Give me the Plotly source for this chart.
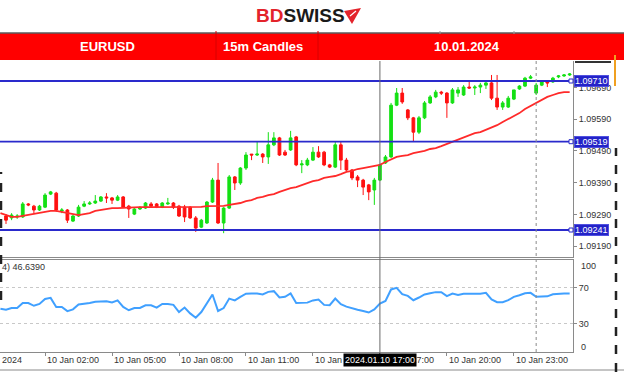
import plotly.graph_objects as go
import pandas as pd

# ---------------- data ----------------
opens = [
    1.09285, 1.09279, 1.09282, 1.09282, 1.09323, 1.09316, 1.09304, 1.09313, 1.09354, 1.09357,
    1.09301, 1.09304, 1.09269, 1.09285, 1.09316, 1.09323, 1.09326, 1.09332, 1.09345, 1.09342,
    1.09335, 1.09345, 1.09316, 1.09291, 1.09307, 1.09310, 1.09323, 1.09323, 1.09313, 1.09323,
    1.09326, 1.09316, 1.09313, 1.09313, 1.09279, 1.09250, 1.09263, 1.09329, 1.09398, 1.09263,
    1.09310, 1.09408, 1.09389, 1.09436, 1.09480, 1.09477, 1.09480, 1.09471, 1.09509, 1.09531,
    1.09486, 1.09493, 1.09534, 1.09446, 1.09446, 1.09461, 1.09486, 1.09486, 1.09446, 1.09439,
    1.09509, 1.09461, 1.09430, 1.09408, 1.09398, 1.09383, 1.09367, 1.09398, 1.09452, 1.09471,
    1.09634, 1.09672, 1.09619, 1.09594, 1.09549, 1.09594, 1.09641, 1.09660, 1.09675, 1.09672,
    1.09641, 1.09672, 1.09666, 1.09691, 1.09688, 1.09691, 1.09697, 1.09704, 1.09656, 1.09628,
    1.09628, 1.09653, 1.09685, 1.09694, 1.09719, 1.09672, 1.09697, 1.09707, 1.09707, 1.09723,
    1.09726, 1.09729]
highs = [
    1.09291, 1.09294, 1.09291, 1.09329, 1.09326, 1.09320, 1.09320, 1.09357, 1.09364, 1.09361,
    1.09310, 1.09307, 1.09288, 1.09320, 1.09332, 1.09332, 1.09351, 1.09348, 1.09357, 1.09345,
    1.09351, 1.09348, 1.09320, 1.09310, 1.09316, 1.09329, 1.09329, 1.09326, 1.09329, 1.09342,
    1.09329, 1.09320, 1.09320, 1.09316, 1.09285, 1.09276, 1.09332, 1.09405, 1.09452, 1.09313,
    1.09414, 1.09411, 1.09439, 1.09486, 1.09480, 1.09518, 1.09483, 1.09549, 1.09549, 1.09534,
    1.09493, 1.09553, 1.09537, 1.09461, 1.09468, 1.09502, 1.09505, 1.09490, 1.09449, 1.09518,
    1.09518, 1.09468, 1.09433, 1.09414, 1.09402, 1.09386, 1.09405, 1.09449, 1.09477, 1.09641,
    1.09688, 1.09688, 1.09622, 1.09597, 1.09600, 1.09647, 1.09666, 1.09682, 1.09679, 1.09675,
    1.09688, 1.09691, 1.09697, 1.09707, 1.09697, 1.09704, 1.09710, 1.09729, 1.09729, 1.09647,
    1.09663, 1.09682, 1.09697, 1.09723, 1.09729, 1.09704, 1.09713, 1.09710, 1.09723, 1.09729,
    1.09732, 1.09735]
lows = [
    1.09260, 1.09272, 1.09276, 1.09279, 1.09316, 1.09294, 1.09301, 1.09310, 1.09351, 1.09298,
    1.09294, 1.09263, 1.09266, 1.09282, 1.09313, 1.09320, 1.09323, 1.09329, 1.09326, 1.09323,
    1.09332, 1.09310, 1.09279, 1.09288, 1.09304, 1.09307, 1.09313, 1.09310, 1.09310, 1.09320,
    1.09307, 1.09282, 1.09266, 1.09276, 1.09235, 1.09247, 1.09260, 1.09326, 1.09260, 1.09231,
    1.09307, 1.09367, 1.09383, 1.09430, 1.09461, 1.09474, 1.09452, 1.09449, 1.09505, 1.09474,
    1.09474, 1.09490, 1.09442, 1.09420, 1.09442, 1.09458, 1.09468, 1.09442, 1.09436, 1.09436,
    1.09430, 1.09427, 1.09398, 1.09376, 1.09351, 1.09335, 1.09320, 1.09395, 1.09449, 1.09468,
    1.09631, 1.09638, 1.09587, 1.09518, 1.09543, 1.09590, 1.09638, 1.09656, 1.09666, 1.09594,
    1.09638, 1.09660, 1.09663, 1.09685, 1.09666, 1.09672, 1.09685, 1.09650, 1.09619, 1.09619,
    1.09625, 1.09650, 1.09682, 1.09691, 1.09716, 1.09666, 1.09694, 1.09691, 1.09704, 1.09719,
    1.09723, 1.09726]
closes = [
    1.09272, 1.09288, 1.09285, 1.09323, 1.09320, 1.09304, 1.09316, 1.09351, 1.09361, 1.09304,
    1.09304, 1.09272, 1.09285, 1.09313, 1.09323, 1.09326, 1.09332, 1.09345, 1.09342, 1.09335,
    1.09345, 1.09313, 1.09307, 1.09307, 1.09310, 1.09326, 1.09316, 1.09313, 1.09326, 1.09326,
    1.09313, 1.09285, 1.09282, 1.09279, 1.09247, 1.09272, 1.09329, 1.09398, 1.09263, 1.09310,
    1.09408, 1.09389, 1.09436, 1.09477, 1.09477, 1.09480, 1.09471, 1.09509, 1.09531, 1.09477,
    1.09477, 1.09531, 1.09446, 1.09449, 1.09461, 1.09486, 1.09471, 1.09446, 1.09439, 1.09509,
    1.09461, 1.09430, 1.09405, 1.09398, 1.09376, 1.09361, 1.09398, 1.09446, 1.09471, 1.09634,
    1.09672, 1.09644, 1.09594, 1.09549, 1.09594, 1.09641, 1.09660, 1.09675, 1.09672, 1.09641,
    1.09682, 1.09682, 1.09691, 1.09688, 1.09691, 1.09697, 1.09704, 1.09656, 1.09628, 1.09641,
    1.09656, 1.09682, 1.09694, 1.09719, 1.09723, 1.09697, 1.09707, 1.09704, 1.09719, 1.09726,
    1.09729, 1.09732]

# moving average (red line) and RSI, starting one bar before the first candle
ma_values = [
    1.09294,
    1.09288, 1.09282, 1.09282, 1.09285, 1.09288, 1.09291, 1.09294, 1.09298, 1.09301, 1.09301,
    1.09298, 1.09294, 1.09291, 1.09288, 1.09291, 1.09294, 1.09301, 1.09304, 1.09307, 1.09310,
    1.09310, 1.09311, 1.09313, 1.09313, 1.09313, 1.09313, 1.09313, 1.09313, 1.09313, 1.09313,
    1.09313, 1.09313, 1.09313, 1.09313, 1.09313, 1.09314, 1.09316, 1.09316, 1.09316, 1.09317,
    1.09320, 1.09323, 1.09326, 1.09332, 1.09335, 1.09342, 1.09345, 1.09351, 1.09354, 1.09361,
    1.09367, 1.09373, 1.09376, 1.09383, 1.09389, 1.09395, 1.09398, 1.09405, 1.09408, 1.09411,
    1.09417, 1.09424, 1.09427, 1.09433, 1.09436, 1.09439, 1.09442, 1.09446, 1.09455, 1.09464,
    1.09471, 1.09474, 1.09477, 1.09483, 1.09486, 1.09490, 1.09496, 1.09499, 1.09505, 1.09512,
    1.09518, 1.09527, 1.09534, 1.09540, 1.09546, 1.09549, 1.09556, 1.09562, 1.09571, 1.09581,
    1.09590, 1.09600, 1.09609, 1.09622, 1.09631, 1.09641, 1.09650, 1.09660, 1.09666, 1.09672,
    1.09675, 1.09675]
rsi_values = [
    46.8,
    45.7, 47.5, 47.5, 53.0, 53.0, 50.0, 52.0, 57.5, 58.8, 48.7,
    48.7, 44.0, 46.0, 51.5, 52.0, 53.0, 54.5, 55.0, 55.0, 53.6,
    56.0, 48.7, 45.0, 47.5, 47.5, 50.5, 50.5, 48.0, 52.0, 52.0,
    51.0, 43.0, 48.0, 41.5, 36.7, 43.0, 53.0, 62.6, 44.2, 47.5,
    58.0, 56.0, 60.0, 63.5, 63.7, 63.7, 62.6, 65.5, 66.3, 59.2,
    60.0, 63.7, 53.1, 53.1, 53.5, 56.0, 57.0, 51.0, 50.6, 58.0,
    51.7, 49.0, 47.0, 45.5, 44.2, 42.5, 46.0, 52.5, 55.4, 68.2,
    70.0, 63.0, 61.0, 56.2, 59.2, 62.6, 64.0, 65.2, 65.2, 60.7,
    63.7, 62.1, 63.3, 63.3, 63.3, 63.5, 64.4, 57.0, 54.0, 54.0,
    56.2, 60.0, 61.8, 64.0, 64.4, 60.0, 60.3, 60.5, 62.9, 63.5,
    63.7, 63.7]

levels = [1.09710, 1.09519, 1.09241]
price_ticks = [1.09190, 1.09290, 1.09390, 1.09490, 1.09590, 1.09690]
rsi_ticks = [70, 30]
time_ticks = ["2024-01-10 02:00", "2024-01-10 05:00", "2024-01-10 08:00", "2024-01-10 11:00",
              "2024-01-10 14:00", "2024-01-10 17:00", "2024-01-10 20:00", "2024-01-10 23:00"]
time_tick_labels = ["10 Jan 02:00", "10 Jan 05:00", "10 Jan 08:00", "10 Jan 11:00",
                    "10 Jan 14:00", "10 Jan 17:00", "10 Jan 20:00", "10 Jan 23:00"]
crosshair_time = "2024-01-10 17:00"
crosshair_label = "2024.01.10 17:00"
separator_time = "2024-01-11 00:00"
header_cells = ["EURUSD", "15m Candles", "10.01.2024"]
rsi_caption = "4) 46.6390"

candle_times = pd.date_range("2024-01-10 00:15", periods=len(opens), freq="15min")
line_times = pd.date_range("2024-01-10 00:00", periods=len(ma_values), freq="15min")

# ---------------- layout helpers ----------------
W, H = 624, 372
def px(x):
    return x / W
def py(y):
    return 1 - y / H

XR = px(573)
MAIN_DOM = [py(257), py(61)]
RSI_DOM = [py(352), py(260)]
FONT = "Liberation Sans, Arial, sans-serif"
AX = dict(family=FONT, size=9, color="#333333")

fig = go.Figure()

fig.add_trace(go.Candlestick(
    x=candle_times, open=opens, high=highs, low=lows, close=closes,
    increasing=dict(line=dict(color="#14e014", width=1), fillcolor="#14e014"),
    decreasing=dict(line=dict(color="#ff1010", width=1), fillcolor="#ff1010"),
    whiskerwidth=0, xaxis="x", yaxis="y", showlegend=False, hoverinfo="skip"))

fig.add_trace(go.Scatter(x=line_times, y=ma_values, mode="lines",
                         line=dict(color="#ff2a2a", width=1.8),
                         xaxis="x", yaxis="y", showlegend=False, hoverinfo="skip"))

fig.add_trace(go.Scatter(x=line_times, y=rsi_values, mode="lines",
                         line=dict(color="#40a0ff", width=2),
                         xaxis="x2", yaxis="y2", showlegend=False, hoverinfo="skip"))

xrange = ["2024-01-09 23:58:53", "2024-01-11 01:39:00"]

fig.update_layout(
    width=W, height=H, margin=dict(l=0, r=0, t=0, b=0),
    paper_bgcolor="white", plot_bgcolor="white",
    xaxis=dict(domain=[0, XR], anchor="y", range=xrange, showticklabels=False,
               showgrid=False, zeroline=False, rangeslider=dict(visible=False),
               showline=True, linecolor="#8a8a8a", linewidth=1, ticks=""),
    yaxis=dict(domain=MAIN_DOM, anchor="x", side="right", range=[1.09156, 1.09773],
               tickvals=price_ticks, ticktext=[f"{v:.5f}" for v in price_ticks],
               tickfont=AX, ticks="outside", ticklen=3, tickcolor="#8a8a8a",
               showgrid=False, zeroline=False, showline=True, linecolor="#8a8a8a"),
    xaxis2=dict(domain=[0, XR], anchor="y2", range=xrange, matches="x",
                showticklabels=False, showgrid=False, zeroline=False,
                tickvals=time_ticks, ticks="outside", ticklen=3, tickcolor="#8a8a8a",
                showline=True, mirror=True, linecolor="#8a8a8a", linewidth=1),
    yaxis2=dict(domain=RSI_DOM, anchor="x2", side="right", range=[-1.5, 101],
                tickvals=rsi_ticks, ticktext=[str(v) for v in rsi_ticks], tickfont=AX,
                ticks="outside", ticklen=3, tickcolor="#8a8a8a",
                showgrid=True, gridcolor="#c8c8c8", griddash="dot", gridwidth=1,
                zeroline=False, showline=True, linecolor="#8a8a8a"),
)

shapes = []
# header band
shapes.append(dict(type="rect", xref="paper", yref="paper", x0=0, x1=1, y0=py(60), y1=py(33),
                   fillcolor="#ff0000", line=dict(width=0), layer="below"))
shapes.append(dict(type="line", xref="paper", yref="paper", x0=0, x1=1, y0=py(33), y1=py(33),
                   line=dict(color="#5a5a5a", width=1.5)))
for xd in (216, 318):
    shapes.append(dict(type="line", xref="paper", yref="paper", x0=px(xd), x1=px(xd),
                       y0=py(60), y1=py(31), line=dict(color="#d80000", width=1)))
for xd in (440, 514):
    shapes.append(dict(type="line", xref="paper", yref="paper", x0=px(xd), x1=px(xd),
                       y0=py(34), y1=py(31), line=dict(color="#9a9a9a", width=1)))
# logo mark
shapes.append(dict(type="path", xref="paper", yref="paper",
                   path=f"M {px(344)},{py(11)} L {px(361)},{py(8)} L {px(352)},{py(24)} Z",
                   fillcolor="#e3232b", line=dict(width=0)))
shapes.append(dict(type="line", xref="paper", yref="paper", x0=px(350), x1=px(356),
                   y0=py(16), y1=py(11), line=dict(color="white", width=1.2)))
# level lines
for lv in levels:
    shapes.append(dict(type="line", xref="paper", yref="y", x0=0, x1=XR, y0=lv, y1=lv,
                       line=dict(color="#2a2acc", width=1.8)))
    shapes.append(dict(type="rect", xref="paper", yref="y", xsizemode="pixel", ysizemode="pixel",
                       xanchor=XR, yanchor=lv, x0=-4, x1=0, y0=-2, y1=2,
                       line=dict(color="#2a2acc", width=1), fillcolor="white"))
# crosshair and day separator
shapes.append(dict(type="line", xref="x", yref="paper", x0=crosshair_time, x1=crosshair_time,
                   y0=py(366), y1=py(61), line=dict(color="#6a6a6a", width=1)))
shapes.append(dict(type="line", xref="x", yref="paper", x0=separator_time, x1=separator_time,
                   y0=py(352), y1=py(61), line=dict(color="#8a8a8a", width=1, dash="dot")))
# outer frame bits
shapes.append(dict(type="line", xref="paper", yref="paper", x0=0, x1=1, y0=py(370), y1=py(370),
                   line=dict(color="#8a8a8a", width=1)))
shapes.append(dict(type="line", xref="paper", yref="paper", x0=px(616), x1=px(616),
                   y0=py(372), y1=py(148), line=dict(color="#222222", width=2.5, dash="dash")))
shapes.append(dict(type="line", xref="paper", yref="paper", x0=px(1), x1=px(1),
                   y0=py(300), y1=py(172), line=dict(color="#222222", width=2.5, dash="dash")))
shapes.append(dict(type="line", xref="paper", yref="paper", x0=px(615), x1=px(615),
                   y0=py(86), y1=py(55), line=dict(color="#f0a020", width=2)))
shapes.append(dict(type="line", xref="paper", yref="paper", x0=px(575), x1=px(611),
                   y0=py(62), y1=py(62), line=dict(color="#333333", width=2)))
fig.update_layout(shapes=shapes)

ann = []
# logo
ann.append(dict(xref="paper", yref="paper", x=px(300), y=py(16), showarrow=False,
                xanchor="center", yanchor="middle",
                text="<b><span style='color:#e3232b'>BD</span><span style='color:#1a1a1a'>SWISS</span></b>",
                font=dict(family=FONT, size=19)))
# header cells
for txt, xc in zip(header_cells, (107, 263, 467)):
    ann.append(dict(xref="paper", yref="paper", x=px(xc), y=py(46.5), showarrow=False,
                    xanchor="center", yanchor="middle", text=f"<b>{txt}</b>",
                    font=dict(family=FONT, size=13, color="white")))
# level labels
for lv in levels:
    ann.append(dict(xref="paper", yref="y", x=XR, xshift=1, y=lv, showarrow=False,
                    xanchor="left", yanchor="middle", text=f"{lv:.5f}",
                    bgcolor="#2323c8", bordercolor="#5050e0", borderwidth=1, borderpad=0,
                    font=dict(family=FONT, size=9, color="white")))
# RSI extreme labels
ann.append(dict(xref="paper", yref="y2", x=XR, xshift=6, y=100, yshift=-5, showarrow=False,
                xanchor="left", yanchor="middle", text="100", font=AX))
ann.append(dict(xref="paper", yref="y2", x=XR, xshift=6, y=0, yshift=4, showarrow=False,
                xanchor="left", yanchor="middle", text="0", font=AX))
ann.append(dict(xref="paper", yref="paper", x=0, y=py(267), showarrow=False,
                xanchor="left", yanchor="middle", text=rsi_caption, font=AX))
# time labels
ann.append(dict(xref="paper", yref="paper", x=0, y=py(360), showarrow=False,
                xanchor="left", yanchor="middle", text="2024", font=AX))
for t, lab in zip(time_ticks, time_tick_labels):
    ann.append(dict(xref="x2", yref="paper", x=t, y=py(360), showarrow=False,
                    xanchor="left", yanchor="middle", text=lab, font=AX))
ann.append(dict(xref="x2", yref="paper", x=crosshair_time, y=py(360), showarrow=False,
                xanchor="center", yanchor="middle", text=crosshair_label,
                bgcolor="black", borderpad=1,
                font=dict(family=FONT, size=9, color="white")))
fig.update_layout(annotations=ann)

fig.write_html("out.html")
